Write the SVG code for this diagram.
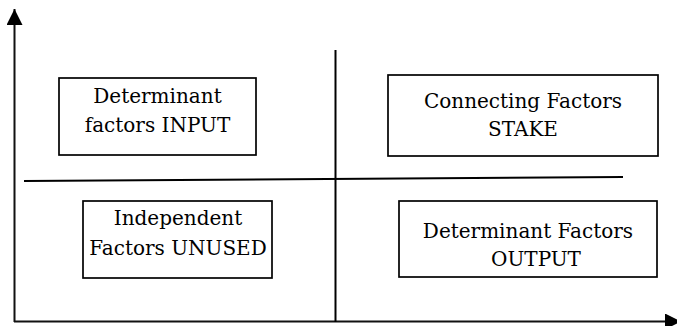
<svg xmlns="http://www.w3.org/2000/svg" width="677" height="326" viewBox="0 0 677 326">
  <style>
    .box { fill: #ffffff; stroke: #000000; stroke-width: 1.7; }
    .axis { stroke: #111111; stroke-width: 2; fill: none; }
    .div { stroke: #000000; stroke-width: 2; fill: none; }
    .label { font-family: "DejaVu Serif", "Liberation Serif", serif; font-size: 20px; fill: #000000; text-anchor: middle; }
  </style>
  <defs>
    <marker id="arrow" markerUnits="userSpaceOnUse" markerWidth="16" markerHeight="16" refX="16" refY="8" orient="auto">
      <path d="M0,0 L16,8 L0,16 Z" fill="#000000"/>
    </marker>
  </defs>
  <rect width="677" height="326" fill="#ffffff"/>

  <g id="connectors">
    <!-- axes -->
    <line class="axis" x1="14.5" y1="322" x2="14.5" y2="9" marker-end="url(#arrow)"/>
    <line class="axis" x1="14" y1="321.5" x2="681" y2="321.5" marker-end="url(#arrow)"/>
    <!-- quadrant dividers -->
    <line class="div" x1="335.5" y1="50" x2="335.5" y2="322"/>
    <line class="div" x1="24" y1="181" x2="623" y2="177"/>
  </g>

  <g id="input">
    <rect class="box" x="59" y="78" width="197" height="77"/>
    <text class="label" x="157.5" y="103">Determinant</text>
    <text class="label" x="157.5" y="132">factors INPUT</text>
  </g>

  <g id="stake">
    <rect class="box" x="388" y="75" width="270" height="81"/>
    <text class="label" x="523" y="108">Connecting Factors</text>
    <text class="label" x="523" y="136">STAKE</text>
  </g>

  <g id="unused">
    <rect class="box" x="83" y="201" width="189" height="77"/>
    <text class="label" x="178" y="225">Independent</text>
    <text class="label" x="178" y="255">Factors UNUSED</text>
  </g>

  <g id="output">
    <rect class="box" x="399" y="201" width="258" height="76"/>
    <text class="label" x="528" y="238">Determinant Factors</text>
    <text class="label" x="536" y="266">OUTPUT</text>
  </g>
</svg>
